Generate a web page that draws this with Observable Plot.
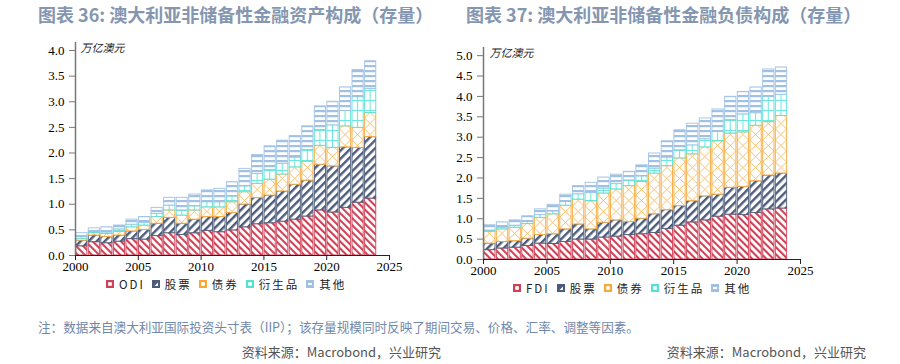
<!DOCTYPE html>
<html><head><meta charset="utf-8">
<script src="https://cdn.jsdelivr.net/npm/d3@7"></script>
<script src="https://cdn.jsdelivr.net/npm/@observablehq/plot@0.6"></script>
<style>
html,body{margin:0;padding:0;background:#fff;}
#root{position:relative;width:900px;height:364px;overflow:hidden;font-family:"Noto Sans CJK SC","Noto Sans",sans-serif;}
.title{position:absolute;top:0;line-height:28px;font-size:18px;font-weight:bold;color:#8496b0;white-space:nowrap;}
.chart{position:absolute;top:30px;}
.legend{position:absolute;display:flex;align-items:center;font-size:11.5px;color:#222;white-space:nowrap;letter-spacing:2px;}
.legend .it{display:flex;align-items:center;margin-right:7px;}
.legend svg{margin-right:5px;}
.note{position:absolute;left:38px;top:317px;font-size:12.6px;color:#7088a9;white-space:nowrap;}
.src{position:absolute;top:342px;font-size:13px;color:#555;white-space:nowrap;text-align:right;}
</style></head><body>
<div id="root">
  <div class="title" style="left:38px">图表 36: 澳大利亚非储备性金融资产构成（存量）</div>
  <div class="title" style="left:466px">图表 37: 澳大利亚非储备性金融负债构成（存量）</div>
  <div class="chart" id="c1" style="left:0px"></div>
  <div class="chart" id="c2" style="left:430px"></div>
  <div class="legend" id="l1" style="left:106px;top:276px"></div>
  <div class="legend" id="l2" style="left:513px;top:280px"></div>
  <div class="note">注：数据来自澳大利亚国际投资头寸表（IIP）；该存量规模同时反映了期间交易、价格、汇率、调整等因素。</div>
  <div class="src" style="right:459px">资料来源：Macrobond，兴业研究</div>
  <div class="src" style="right:34px">资料来源：Macrobond，兴业研究</div>
</div>
<script>
const years = d3.range(2001, 2025);
const xTicks = [2000, 2005, 2010, 2015, 2020, 2025];
const unitLabel = "万亿澳元";

// 资产 (assets)
const assetSeries = ["ODI", "股票", "债券", "衍生品", "其他"];
const assetODI   = [0.18,0.26,0.24,0.27,0.32,0.31,0.38,0.435,0.40,0.435,0.48,0.455,0.49,0.55,0.61,0.63,0.66,0.70,0.76,0.88,0.84,0.93,1.03,1.11];
const assetEq    = [0.11,0.13,0.12,0.12,0.15,0.19,0.24,0.30,0.22,0.265,0.27,0.295,0.34,0.445,0.51,0.54,0.59,0.68,0.70,0.89,0.90,1.18,1.07,1.20];
const assetDebt  = [0.035,0.045,0.06,0.07,0.08,0.085,0.13,0.145,0.16,0.18,0.19,0.19,0.21,0.24,0.28,0.31,0.33,0.34,0.37,0.37,0.36,0.41,0.39,0.47];
const assetDeriv = [0.035,0.02,0.03,0.05,0.05,0.055,0.06,0.095,0.10,0.08,0.10,0.10,0.11,0.115,0.19,0.19,0.21,0.19,0.23,0.31,0.44,0.30,0.60,0.47];
const assetOther = [0.075,0.075,0.10,0.075,0.10,0.11,0.12,0.15,0.245,0.23,0.23,0.26,0.28,0.34,0.37,0.46,0.45,0.42,0.46,0.46,0.46,0.46,0.53,0.54];

// 负债 (liabilities)
const liabSeries = ["FDI", "股票", "债券", "衍生品", "其他"];
const liabFDI   = [0.23,0.27,0.29,0.33,0.39,0.38,0.43,0.49,0.49,0.54,0.56,0.60,0.62,0.65,0.75,0.83,0.91,0.96,1.05,1.10,1.09,1.14,1.23,1.25];
const liabEq    = [0.16,0.16,0.16,0.18,0.21,0.24,0.31,0.37,0.25,0.36,0.40,0.32,0.38,0.46,0.46,0.48,0.52,0.59,0.54,0.66,0.69,0.78,0.83,0.86];
const liabDebt  = [0.29,0.31,0.33,0.36,0.42,0.49,0.58,0.61,0.69,0.72,0.76,0.88,0.90,1.00,1.08,1.17,1.15,1.20,1.31,1.33,1.34,1.36,1.31,1.41];
const liabDeriv = [0.03,0.04,0.05,0.05,0.07,0.07,0.09,0.13,0.20,0.12,0.13,0.14,0.14,0.12,0.21,0.20,0.22,0.20,0.23,0.33,0.44,0.31,0.62,0.52];
const liabOther = [0.13,0.13,0.13,0.14,0.14,0.16,0.18,0.20,0.25,0.27,0.23,0.21,0.27,0.37,0.40,0.49,0.53,0.51,0.55,0.57,0.55,0.63,0.67,0.67];

const palette = ["#cf4157", "#4b5b79", "#f6a93b", "#55e1d6", "#a0c1e4"];

const NS = "http://www.w3.org/2000/svg";
function el(tag, attrs, parent) {
  const e = document.createElementNS(NS, tag);
  for (const k in attrs) e.setAttribute(k, attrs[k]);
  if (parent) parent.appendChild(e);
  return e;
}

function addPatterns(svg, id, x0, pitch) {
  const defs = el("defs", {});
  svg.insertBefore(defs, svg.firstChild);
  let p = el("pattern", {id: id + "-p0", patternUnits: "userSpaceOnUse", width: 5, height: 5, patternTransform: "rotate(-45)"}, defs);
  el("rect", {x: 0, y: 0, width: 5, height: 5, fill: "#fff"}, p);
  el("rect", {x: 0, y: 0, width: 2.1, height: 5, fill: palette[0]}, p);
  p = el("pattern", {id: id + "-p1", patternUnits: "userSpaceOnUse", width: 5.7, height: 5.7, patternTransform: "rotate(45)"}, defs);
  el("rect", {x: 0, y: 0, width: 5.7, height: 5.7, fill: "#fff"}, p);
  el("rect", {x: 0, y: 0, width: 2.4, height: 5.7, fill: palette[1]}, p);
  const h = 11;
  p = el("pattern", {id: id + "-p2", patternUnits: "userSpaceOnUse", x: x0, y: 0, width: pitch, height: h}, defs);
  el("rect", {x: 0, y: 0, width: pitch, height: h, fill: "#fff"}, p);
  el("path", {d: `M0.7,0L${pitch - 0.7},${h}M${pitch - 0.7},0L0.7,${h}`, stroke: "#f8b65a", "stroke-width": 0.9, fill: "none"}, p);
  p = el("pattern", {id: id + "-p3", patternUnits: "userSpaceOnUse", x: x0, y: 0, width: pitch, height: 10}, defs);
  el("rect", {x: 0, y: 0, width: pitch, height: 10, fill: "#fff"}, p);
  el("path", {d: `M${pitch / 2},0V10M0,0.5H${pitch}`, stroke: "#6fe6dc", "stroke-width": 1.1, fill: "none"}, p);
  p = el("pattern", {id: id + "-p4", patternUnits: "userSpaceOnUse", width: 6, height: 5}, defs);
  el("rect", {x: 0, y: 0, width: 6, height: 5, fill: "#fff"}, p);
  el("rect", {x: 0, y: 0, width: 6, height: 2.2, fill: palette[4]}, p);
}

function build(container, id, series, arrays, cfg) {
  const data = series.flatMap((s, i) => years.map((yr, j) => ({year: yr, series: s, k: i, value: arrays[i][j]})));
  const plot = Plot.plot({
    width: cfg.width, height: cfg.height,
    marginLeft: cfg.ml, marginRight: cfg.mr, marginTop: cfg.mt, marginBottom: cfg.mb,
    x: {domain: [2000, 2025], label: null},
    y: {domain: [0, cfg.ymax], label: null},
    color: {type: "identity"},
    style: {fontFamily: "'Liberation Serif', 'Times New Roman', serif", fontSize: "13px", color: "#000", background: "transparent", overflow: "visible"},
    marks: [
      Plot.rectY(data, {
        x1: d => d.year - 1, x2: d => d.year, y: "value", z: "series",
        fill: d => `url(#${id}-p${d.k})`, stroke: d => palette[d.k],
        strokeWidth: 1, strokeOpacity: 0.9, insetLeft: 0.7, insetRight: 0.7
      }),
      Plot.ruleX([2000], {stroke: "#777", strokeWidth: 1.5}),
      Plot.ruleY([0], {stroke: "#222", strokeWidth: 1}),
      Plot.axisY({ticks: d3.range(0, cfg.ytop + 0.001, 0.5), tickFormat: d3.format(".1f"), tickSize: 6, tickPadding: 5, stroke: "#777", fill: "#000", label: null}),
      Plot.axisX({ticks: xTicks, tickFormat: d => String(d), tickSize: 5, tickPadding: 1, stroke: "#222", fill: "#000", label: null}),
      Plot.text([unitLabel], {frameAnchor: "top-left", dx: cfg.udx, dy: 2, lineAnchor: "top", fontFamily: "Noto Sans CJK SC", fontSize: 11, fontStyle: "italic", fill: "#222"})
    ]
  });
  const xs = plot.scale("x");
  const x0 = xs.apply(2000), pitch = xs.apply(2001) - xs.apply(2000);
  addPatterns(plot, id, x0, pitch);
  container.appendChild(plot);
}

build(document.getElementById("c1"), "a", assetSeries, [assetODI, assetEq, assetDebt, assetDeriv, assetOther],
  {width: 430, height: 250, ml: 75, mr: 41, mt: 12, mb: 25, ymax: 4.156, ytop: 4, udx: 5});
build(document.getElementById("c2"), "b", liabSeries, [liabFDI, liabEq, liabDebt, liabDeriv, liabOther],
  {width: 430, height: 250, ml: 53, mr: 60, mt: 17, mb: 21, ymax: 5.2, ytop: 5, udx: 6});

function swatch(k) {
  const s = el("svg", {width: 8, height: 8});
  el("rect", {x: 0, y: 0, width: 8, height: 8, fill: palette[k]}, s);
  if (k === 1) el("path", {d: "M6,2.5V6H2.5Z", fill: "#fff"}, s);
  else if (k === 4) el("rect", {x: 2, y: 3, width: 4, height: 2, fill: "#fff"}, s);
  else el("rect", {x: 2.2, y: 2.2, width: 3.6, height: 3.6, fill: "#fff"}, s);
  return s;
}
function legend(node, series) {
  series.forEach((s, k) => {
    const it = document.createElement("div");
    it.className = "it";
    it.appendChild(swatch(k));
    const t = document.createElement("span");
    t.textContent = s;
    it.appendChild(t);
    node.appendChild(it);
  });
}
legend(document.getElementById("l1"), assetSeries);
legend(document.getElementById("l2"), liabSeries);
</script>
</body></html>
